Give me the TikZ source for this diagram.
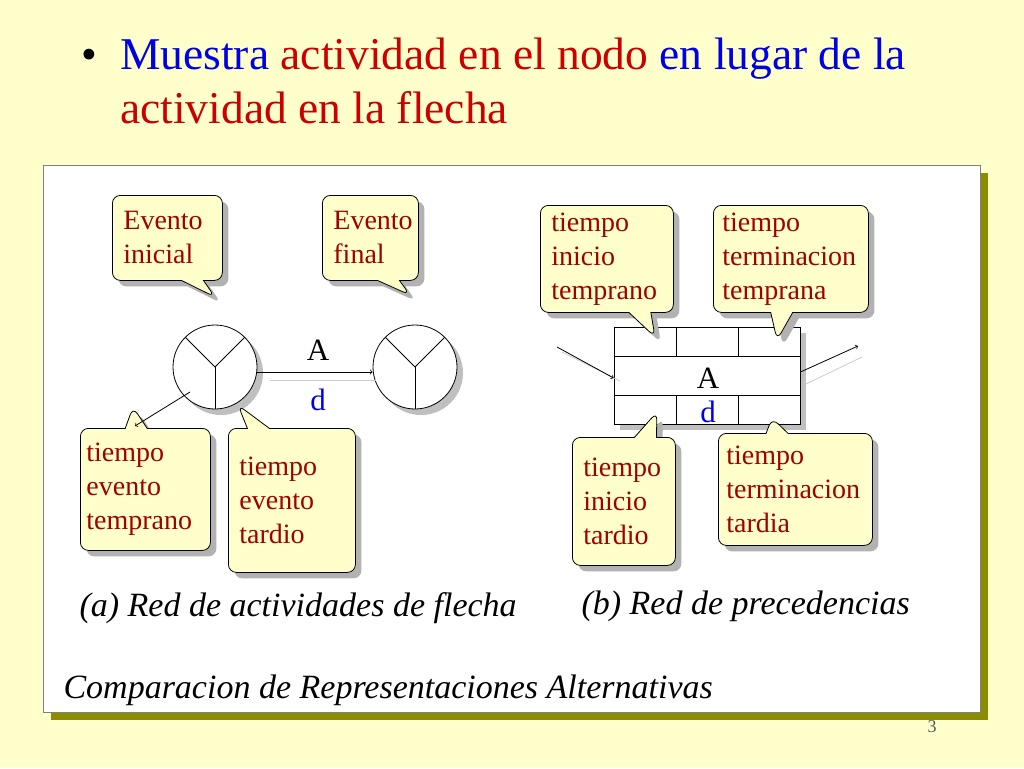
\documentclass[tikz,border=0pt]{standalone}
\usepackage{fontspec}
\setmainfont{Liberation Serif}
\usetikzlibrary{shapes.callouts, shadows, positioning}
\definecolor{slidebg}{RGB}{255,255,204}
\definecolor{calloutfill}{RGB}{255,255,204}
\definecolor{darkred}{RGB}{160,0,0}
\definecolor{titlered}{RGB}{204,0,0}
\definecolor{titleblue}{RGB}{0,0,230}
\definecolor{olive}{RGB}{140,140,0}
\tikzset{
  callout/.style={rectangle callout, draw, thick, fill=calloutfill, rounded corners=8pt,
    align=left, text=darkred, font=\fontsize{28}{34}\selectfont, inner ysep=6pt, inner xsep=11pt,
    anchor=north west, callout pointer width=22pt,
    drop shadow={shadow xshift=6pt, shadow yshift=-6pt, fill=gray!60, opacity=1}},
  event/.style={circle, draw, thick, fill=white, minimum size=84pt, inner sep=0pt,
    drop shadow={shadow xshift=6pt, shadow yshift=-6pt, fill=gray!50, opacity=1}},
  caption/.style={font=\fontsize{34}{38}\selectfont\itshape, anchor=west}
}
\begin{document}
\begin{tikzpicture}[x=1pt, y=-1pt]
        \fill[slidebg] (0,0) rectangle (1024,768);
        \useasboundingbox (0,0) rectangle (1024,768);

        % title
        \node[anchor=base west, font=\fontsize{45}{53}\selectfont] (bullet) at (78,70) {\textbullet};
        \node[anchor=base west, inner sep=0pt, align=left, font=\fontsize{45.5}{53}\selectfont] (title) at (120,70)
            {\textcolor{titleblue}{Muestra} \textcolor{titlered}{actividad en el nodo} \textcolor{titleblue}{en lugar de la}};
        \node[anchor=base west, inner sep=0pt, font=\fontsize{45.5}{53}\selectfont, text=titlered] (title2) at (120,123)
            {actividad en la flecha};

        % panel
        \fill[olive] (51,173) rectangle (988,720);
        \filldraw[fill=white, draw=gray] (43,165) rectangle (980,712);

        % (a) arrow network
        \node[event] (ev1) at (215,367) {};
        \node[event] (ev2) at (415,367) {};
        \foreach \c in {ev1, ev2} {
            \draw[thick] (\c.center) -- +(225:42);
            \draw[thick] (\c.center) -- +(-45:42);
            \draw[thick] (\c.center) -- +(90:42);
        }
        \draw[gray!40, thick] (270,380) -- (376,380);
        \draw[->, thick] (ev1.east |- 0,372) -- (ev2.west |- 0,372);
        \node[font=\fontsize{31}{34}\selectfont] (lblA) at (318,350) {A};
        \node[font=\fontsize{31}{34}\selectfont, text=titleblue] (lblD) at (318,400) {d};

        \node[callout, text width=88pt, minimum height=85pt, callout absolute pointer={(215,297)}] (evini) at (112,195) {Evento\\inicial};
        \node[callout, text width=74pt, minimum height=85pt, callout absolute pointer={(410,295)}] (evfin) at (322,195) {Evento\\final};
        \node[callout, inner xsep=6pt, text width=118pt, minimum height=122pt, callout absolute pointer={(133,407)}] (temp) at (80,428) {tiempo\\evento\\temprano};
        \node[callout, text width=105pt, minimum height=144pt, callout absolute pointer={(238,405)}] (tard) at (228,428) {tiempo\\evento\\tardio};
        \coordinate (tip) at (135,426);
        \draw[->, thick] (190,392) -- (tip);

        % (b) precedence network
        \fill[gray!50] (620,333) rectangle (806,430);
        \node[draw, thick, fill=white, minimum width=186pt, minimum height=97pt, inner sep=0pt] (act) at (707,375.5) {};
        \draw[thick] (614,356) -- (800,356);
        \draw[thick] (614,395) -- (800,395);
        \foreach \x in {676,738} {
            \draw[thick] (\x,327) -- (\x,356);
            \draw[thick] (\x,395) -- (\x,424);
        }
        \node[font=\fontsize{31}{34}\selectfont] (actA) at (708,378) {A};
        \node[font=\fontsize{31}{34}\selectfont, text=titleblue] (actD) at (708,412) {d};
        \coordinate (inpt) at (557,347);
        \coordinate (outpt) at (858,346);
        \draw[gray!40, thick] (562,352) -- (620,381);
        \draw[gray!40, thick] (806,384) -- (862,357);
        \draw[->, thick] (inpt) -- (act.west |- 0,378);
        \draw[->, thick] (act.east |- 0,372) -- (outpt);

        \node[callout, text width=111pt, minimum height=107pt, callout absolute pointer={(655,337)}] (initemp) at (540,205) {tiempo\\inicio\\temprano};
        \node[callout, inner xsep=9pt, text width=137pt, minimum height=107pt, callout absolute pointer={(777,340)}] (termtemp) at (713,205) {tiempo\\terminacion\\temprana};
        \node[callout, text width=81pt, minimum height=128pt, callout absolute pointer={(657,412)}] (initard) at (572,437) {tiempo\\inicio\\tardio};
        \node[callout, inner xsep=8pt, text width=138pt, minimum height=112pt, callout absolute pointer={(772,418)}] (termtard) at (718,433) {tiempo\\terminacion\\tardia};

        % captions
        \node[caption] (capa) at (76,608) {(a) Red de actividades de flecha};
        \node[caption] (capb) at (578,606) {(b) Red de precedencias};
        \node[caption] (capc) at (60,690) {Comparacion de Representaciones Alternativas};
        \node[font=\fontsize{18}{20}\selectfont, text=gray!70!black] (pnum) at (932,727) {3};
\end{tikzpicture}
\end{document}
